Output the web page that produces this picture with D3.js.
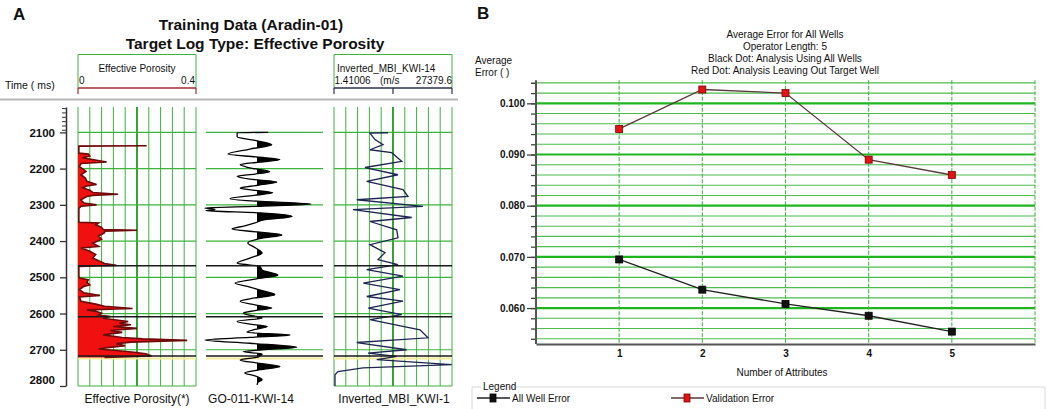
<!DOCTYPE html>
<html>
<head>
<meta charset="utf-8">
<script src="https://cdn.jsdelivr.net/npm/d3@7"></script>
<style>
  body { margin: 0; background: #fff; }
  svg { display: block; }
  text { font-family: "Liberation Sans", Arial, sans-serif; fill: #111; }
</style>
</head>
<body>
<script>
// ---- panel A : well logs ----
var timeTicks = [2100, 2200, 2300, 2400, 2500, 2600, 2700, 2800];
var timeMinor = [2033, 2045, 2057, 2069, 2081, 2093];
var horizonTimes = [2468, 2609, 2717];
var yellowTime = 2724;

var poroTime = [2137,2138,2157,2160,2165,2170,2182,2186,2195,2200,
  2208,2217,2226,2235,2244,2248,2253,2260,2266,2271,
  2274,2277,2286,2295,2300,2304,2310,2346,2348,2350,
  2355,2362,2368,2370,2373,2377,2386,2395,2406,2415,
  2419,2428,2437,2447,2456,2462,2467,2470,2497,2502,
  2507,2514,2521,2525,2534,2543,2550,2554,2566,2574,
  2580,2586,2590,2594,2599,2604,2608,2613,2618,2622,
  2627,2631,2636,2641,2647,2652,2659,2666,2670,2674,
  2679,2683,2689,2694,2698,2702,2707,2711,2717,2721];
var poroValue = [.233,.003,.003,.035,.04,.015,.097,.01,.005,.015,
  .027,.01,.025,.03,.063,.03,.015,.04,.05,.136,
  .05,.03,.01,.02,.063,.01,.003,.003,.005,.07,
  .06,.08,.085,.2,.09,.09,.07,.08,.05,.07,
  .01,.04,.06,.05,.075,.09,.13,.003,.003,.005,
  .035,.03,.04,.02,.005,.02,.075,.005,.01,.06,
  .09,.185,.03,.06,.08,.07,.11,.085,.13,.17,
  .14,.18,.12,.2,.11,.15,.085,.15,.22,.37,
  .18,.13,.16,.10,.07,.13,.19,.23,.25,.09];

var seisTime = [2100,2101,2112,2122,2134,2146,2160,2168,2175,2182,
  2189,2198,2209,2215,2221,2229,2237,2246,2254,2260,
  2267,2275,2283,2290,2298,2304,2309,2313,2316,2322,
  2332,2341,2350,2358,2367,2375,2383,2392,2405,2418,
  2433,2447,2461,2470,2480,2494,2505,2516,2527,2537,
  2548,2557,2566,2576,2585,2592,2599,2606,2612,2622,
  2630,2636,2644,2652,2659,2666,2673,2682,2693,2700,
  2705,2712,2720,2728,2737,2746,2755,2764,2772,2783,
  2790,2797];
var seisAmp = [.22,-.39,-.39,-.04,.29,-.14,-.57,0,.45,.06,
  -.33,-.14,.25,-.04,-.39,-.14,.39,.02,-.33,-.04,
  .31,-.14,-.53,0,1.06,.06,-1.02,-.82,-1,.06,
  .69,.16,-.04,-.24,-.49,.02,.49,.1,-.18,-.04,
  .1,-.14,-.39,.06,.1,.41,-.04,-.43,-.14,.1,
  .35,-.04,-.33,-.04,.29,-.04,-.27,-.1,.1,-.39,
  -.1,.2,-.04,-.2,.65,-.14,-1.02,-.14,.78,.1,
  -.27,.1,.02,-.33,.02,.45,.06,-.24,-.04,.1,
  .02,0];

var invTime = [2101,2102,2120,2134,2148,2156,2180,2197,2217,2235,
  2258,2277,2286,2304,2313,2335,2346,2369,2391,2410,
  2432,2451,2465,2479,2497,2516,2534,2553,2566,2585,
  2603,2617,2645,2667,2680,2700,2709,2718,2727,2741,
  2750,2760,2769,2800];
var invVel = [12530,8350,9510,11370,8350,13390,15710,7190,14850,7590,
  16010,17170,5270,20650,4410,18030,8350,14550,14850,8350,
  11830,10210,14850,7590,16010,6800,15310,7590,16010,7960,
  15710,8350,19950,21810,5270,16870,7890,14550,9910,27310,
  6730,930,230,230];

// ---- panel B : average error ----
var attributes = [1, 2, 3, 4, 5];
var allWellError = [0.0695, 0.0636, 0.0608, 0.0585, 0.0554];
var validationError = [0.0950, 0.1027, 0.1020, 0.0890, 0.0860];
var errorMajor = [0.06, 0.07, 0.08, 0.09, 0.10];

var W = 1052, H = 409;
var svg = d3.select("body").append("svg").attr("width", W).attr("height", H);

var green = "#3cb43c", greenDark = "#1f9a1f";

// ===== panel A =====
var yT = d3.scaleLinear().domain([2030, 2800]).range([107, 386]);
var poroX = d3.scaleLinear().domain([0, 0.4]).range([78, 196]);
var seisX = d3.scaleLinear().domain([-1, 1]).range([206, 308]);
var velX = d3.scaleLinear().domain([1.41006, 27379.6]).range([334, 452]);

svg.append("text").attr("x", 13).attr("y", 20).style("font-size", "17px").style("font-weight", "bold").text("A");
svg.append("text").attr("x", 251).attr("y", 30).attr("text-anchor", "middle")
  .style("font-size", "15.5px").style("font-weight", "bold").text("Training Data (Aradin-01)");
svg.append("text").attr("x", 255).attr("y", 49).attr("text-anchor", "middle")
  .style("font-size", "15.5px").style("font-weight", "bold").text("Target Log Type: Effective Porosity");

// header separator
svg.append("line").attr("x1", 0).attr("x2", 458).attr("y1", 99.5).attr("y2", 99.5)
  .attr("stroke", "#b5b5b5").attr("stroke-width", 2);
svg.append("text").attr("x", 5).attr("y", 89).style("font-size", "10.5px").text("Time ( ms)");

// track headers
function header(x0, x1, lineColor, midTick) {
  svg.append("path").attr("d", "M" + x0 + ",88V54.5H" + x1 + "V88")
    .attr("fill", "none").attr("stroke", green);
  svg.append("line").attr("x1", x0).attr("x2", x1).attr("y1", 88).attr("y2", 88)
    .attr("stroke", lineColor).attr("stroke-width", 1.5);
  var tk = [x0, x1];
  if (midTick) tk.push((x0 + x1) / 2);
  tk.forEach(function (x) {
    svg.append("line").attr("x1", x).attr("x2", x).attr("y1", 88).attr("y2", 94)
      .attr("stroke", lineColor).attr("stroke-width", 1.2);
  });
}
header(78, 196, "#a32a2a", false);
header(334, 452, "#2a3050", true);
svg.append("text").attr("x", 137).attr("y", 72).attr("text-anchor", "middle").style("font-size", "10px").text("Effective Porosity");
svg.append("text").attr("x", 79).attr("y", 84).style("font-size", "10px").text("0");
svg.append("text").attr("x", 195).attr("y", 84).attr("text-anchor", "end").style("font-size", "10px").text("0.4");
svg.append("text").attr("x", 337).attr("y", 72).style("font-size", "10px").text("Inverted_MBI_KWI-14");
svg.append("text").attr("x", 334.5).attr("y", 84).style("font-size", "10px").text("1.41006");
svg.append("text").attr("x", 380).attr("y", 84).style("font-size", "10px").text("(m/s");
svg.append("text").attr("x", 452).attr("y", 84).attr("text-anchor", "end").style("font-size", "10px").text("27379.6");

// time axis
var tAxis = svg.append("g").attr("transform", "translate(66,0)")
  .call(d3.axisLeft(yT).tickValues(timeTicks).tickSize(6).tickSizeOuter(0).tickPadding(5).tickFormat(d3.format("d")));
tAxis.select(".domain").attr("stroke", "#333").attr("stroke-width", 1.5);
tAxis.selectAll(".tick line").attr("stroke", "#333").attr("stroke-width", 1.3);
tAxis.selectAll(".tick text").style("font-size", "11.5px").style("font-weight", "bold")
  .style("font-family", "Liberation Sans, Arial, sans-serif").attr("fill", "#222")
  .filter(function (d) { return d === 2800; }).attr("y", -6);
svg.append("g").attr("transform", "translate(66,0)")
  .call(d3.axisLeft(yT).tickValues(timeMinor).tickSize(4).tickFormat(""))
  .call(function (g) { g.select(".domain").remove(); g.selectAll("line").attr("stroke", "#333"); });

// gridded tracks (porosity + inverted)
function gridTrack(sx, dom) {
  var g = svg.append("g");
  var vals = d3.range(11).map(function (i) { return dom[0] + (dom[1] - dom[0]) * i / 10; });
  g.selectAll("line.v").data(vals).join("line")
    .attr("x1", function (d) { return sx(d); }).attr("x2", function (d) { return sx(d); })
    .attr("y1", yT(2030)).attr("y2", yT(2800))
    .attr("stroke", function (d, i) { return i === 5 ? greenDark : green; })
    .attr("stroke-width", function (d, i) { return i === 5 ? 1.8 : 1; });
  g.selectAll("line.h").data(timeTicks).join("line")
    .attr("x1", sx.range()[0]).attr("x2", sx.range()[1])
    .attr("y1", function (d) { return yT(d); }).attr("y2", function (d) { return yT(d); })
    .attr("stroke", green).attr("stroke-width", 1.2);
}
gridTrack(poroX, [0, 0.4]);
gridTrack(velX, [1.41006, 27379.6]);

// seismic track grid (horizontal only)
svg.append("g").selectAll("line").data(timeTicks.slice(0, 7)).join("line")
  .attr("x1", 206).attr("x2", 323)
  .attr("y1", function (d) { return yT(d); }).attr("y2", function (d) { return yT(d); })
  .attr("stroke", green).attr("stroke-width", 1.2);

// horizons
var trackSpans = [[78, 196], [206, 323], [334, 452]];
trackSpans.forEach(function (s) {
  svg.append("line").attr("x1", s[0]).attr("x2", s[1])
    .attr("y1", yT(yellowTime)).attr("y2", yT(yellowTime))
    .attr("stroke", "#f2ec9a").attr("stroke-width", 2);
});

// porosity log
var poro = poroTime.map(function (t, i) { return [t, poroValue[i]]; });
svg.append("path").datum(poro)
  .attr("d", d3.area().x0(poroX(0)).x1(function (d) { return poroX(d[1]); }).y(function (d) { return yT(d[0]); }))
  .attr("fill", "#f01010");
svg.append("path").datum(poro)
  .attr("d", d3.line().x(function (d) { return poroX(d[1]); }).y(function (d) { return yT(d[0]); }))
  .attr("fill", "none").attr("stroke", "#6e0a0a").attr("stroke-width", 1.6);

// seismic wiggle with variable area
var seis = seisTime.map(function (t, i) { return [t, seisAmp[i]]; });
svg.append("clipPath").attr("id", "posClip").append("rect")
  .attr("x", seisX(0)).attr("y", 100).attr("width", 80).attr("height", 300);
svg.append("path").datum(seis).attr("clip-path", "url(#posClip)")
  .attr("d", d3.area().curve(d3.curveMonotoneY).x0(seisX(0))
    .x1(function (d) { return seisX(d[1]); }).y(function (d) { return yT(d[0]); }))
  .attr("fill", "#000");
svg.append("path").datum(seis)
  .attr("d", d3.line().curve(d3.curveMonotoneY)
    .x(function (d) { return seisX(d[1]); }).y(function (d) { return yT(d[0]); }))
  .attr("fill", "none").attr("stroke", "#000").attr("stroke-width", 1.3);

// inverted velocity log
var inv = invTime.map(function (t, i) { return [t, invVel[i]]; });
svg.append("path").datum(inv)
  .attr("d", d3.line()
    .x(function (d) { return velX(d[1]); }).y(function (d) { return yT(d[0]); }))
  .attr("fill", "none").attr("stroke", "#1d2552").attr("stroke-width", 1.3);

// horizon lines on top
trackSpans.forEach(function (s) {
  svg.append("g").selectAll("line").data(horizonTimes).join("line")
    .attr("x1", s[0]).attr("x2", s[1])
    .attr("y1", function (d) { return yT(d); }).attr("y2", function (d) { return yT(d); })
    .attr("stroke", "#1a1a1a").attr("stroke-width", 1.6);
});

// track footers
svg.append("text").attr("x", 137).attr("y", 403).attr("text-anchor", "middle").style("font-size", "12px").text("Effective Porosity(*)");
svg.append("text").attr("x", 251).attr("y", 403).attr("text-anchor", "middle").style("font-size", "12px").text("GO-011-KWI-14");
svg.append("text").attr("x", 394).attr("y", 403).attr("text-anchor", "middle").style("font-size", "12px").text("Inverted_MBI_KWI-1");

// ===== panel B =====
var xB = d3.scaleLinear().domain([0, 6]).range([536, 1035]);
var yB = d3.scaleLinear().domain([0.053, 0.1045]).range([343.9, 80.3]);

svg.append("text").attr("x", 477).attr("y", 19).style("font-size", "17px").style("font-weight", "bold").text("B");

var titleB = ["Average Error for All Wells", "Operator Length: 5",
  "Black Dot: Analysis Using All Wells", "Red Dot: Analysis Leaving Out Target Well"];
svg.append("g").selectAll("text").data(titleB).join("text")
  .attr("x", 785).attr("y", function (d, i) { return 37.5 + i * 12; })
  .attr("text-anchor", "middle").style("font-size", "10px").text(function (d) { return d; });

svg.append("text").attr("x", 475).attr("y", 64).style("font-size", "10px").text("Average");
svg.append("text").attr("x", 475).attr("y", 76).style("font-size", "10px").text("Error ( )");

// grid
var errMinor = d3.range(26).map(function (i) { return +(0.054 + i * 0.002).toFixed(3); });
svg.append("g").selectAll("line").data(errMinor).join("line")
  .attr("x1", xB(0)).attr("x2", xB(6))
  .attr("y1", function (d) { return yB(d); }).attr("y2", function (d) { return yB(d); })
  .attr("stroke", function (d) { return Math.round(d * 1000) % 10 === 0 ? "#1fb51f" : "#4dbd4d"; })
  .attr("stroke-width", function (d) { return Math.round(d * 1000) % 10 === 0 ? 2.2 : 1.1; });
svg.append("g").selectAll("line").data([1, 2, 3, 4, 5, 6]).join("line")
  .attr("x1", function (d) { return xB(d); }).attr("x2", function (d) { return xB(d); })
  .attr("y1", yB(0.1045)).attr("y2", yB(0.053))
  .attr("stroke", "#45b845").attr("stroke-width", 1.1).attr("stroke-dasharray", "4,1.5");

// axes
var yAxB = svg.append("g").attr("transform", "translate(" + xB(0) + ",0)")
  .call(d3.axisLeft(yB).tickValues(errorMajor).tickSize(9).tickPadding(2).tickFormat(d3.format(".3f")));
yAxB.select(".domain").remove();
yAxB.selectAll(".tick line").attr("stroke", "#444").attr("stroke-width", 1.3);
yAxB.selectAll(".tick text").style("font-size", "10px").style("font-weight", "bold")
  .style("font-family", "Liberation Sans, Arial, sans-serif").attr("fill", "#222");
svg.append("g").attr("transform", "translate(" + xB(0) + ",0)")
  .call(d3.axisLeft(yB).tickValues(errMinor.concat([0.104])).tickSize(5).tickFormat(""))
  .call(function (g) { g.select(".domain").remove(); g.selectAll("line").attr("stroke", "#444").attr("stroke-width", 1.3); });
svg.append("line").attr("x1", xB(0)).attr("x2", xB(0)).attr("y1", yB(0.1045)).attr("y2", yB(0.053))
  .attr("stroke", "#555").attr("stroke-width", 2);
var xAxB = svg.append("g").attr("transform", "translate(0," + yB(0.053) + ")")
  .call(d3.axisBottom(xB).tickValues(attributes).tickSize(0).tickPadding(6).tickFormat(d3.format("d")));
xAxB.select(".domain").attr("stroke", "#555").attr("stroke-width", 2);
xAxB.selectAll(".tick text").style("font-size", "10px").style("font-weight", "bold")
  .style("font-family", "Liberation Sans, Arial, sans-serif").attr("fill", "#222");
svg.append("text").attr("x", 782).attr("y", 376).attr("text-anchor", "middle").style("font-size", "10px").text("Number of Attributes");

// series
function series(vals, lineColor, fill, stroke) {
  var pts = attributes.map(function (a, i) { return [a, vals[i]]; });
  svg.append("path").datum(pts)
    .attr("d", d3.line().x(function (d) { return xB(d[0]); }).y(function (d) { return yB(d[1]); }))
    .attr("fill", "none").attr("stroke", lineColor).attr("stroke-width", 1.3);
  svg.append("g").selectAll("rect").data(pts).join("rect")
    .attr("x", function (d) { return xB(d[0]) - 3.5; }).attr("y", function (d) { return yB(d[1]) - 3.5; })
    .attr("width", 7).attr("height", 7).attr("fill", fill).attr("stroke", stroke).attr("stroke-width", 0.8);
}
series(validationError, "#5a3a3a", "#e51212", "#7a0000");
series(allWellError, "#222", "#111", "#000");

// legend
svg.append("path").attr("d", "M481,387H472V412M508,387H1045V412")
  .attr("fill", "none").attr("stroke", "#d8d8d8");
svg.append("text").attr("x", 483).attr("y", 390).style("font-size", "10px").text("Legend");
var legendItems = [
  { label: "All Well Error", x: 477, line: "#222", fill: "#111", stroke: "#000" },
  { label: "Validation Error", x: 671, line: "#5a3a3a", fill: "#e51212", stroke: "#7a0000" }
];
legendItems.forEach(function (it) {
  svg.append("line").attr("x1", it.x).attr("x2", it.x + 33).attr("y1", 398).attr("y2", 398)
    .attr("stroke", it.line).attr("stroke-width", 1.3);
  svg.append("rect").attr("x", it.x + 13).attr("y", 394).attr("width", 6).attr("height", 8)
    .attr("fill", it.fill).attr("stroke", it.stroke).attr("stroke-width", 0.8);
  svg.append("text").attr("x", it.x + 35).attr("y", 401.5).style("font-size", "10px").text(it.label);
});
</script>
</body>
</html>
